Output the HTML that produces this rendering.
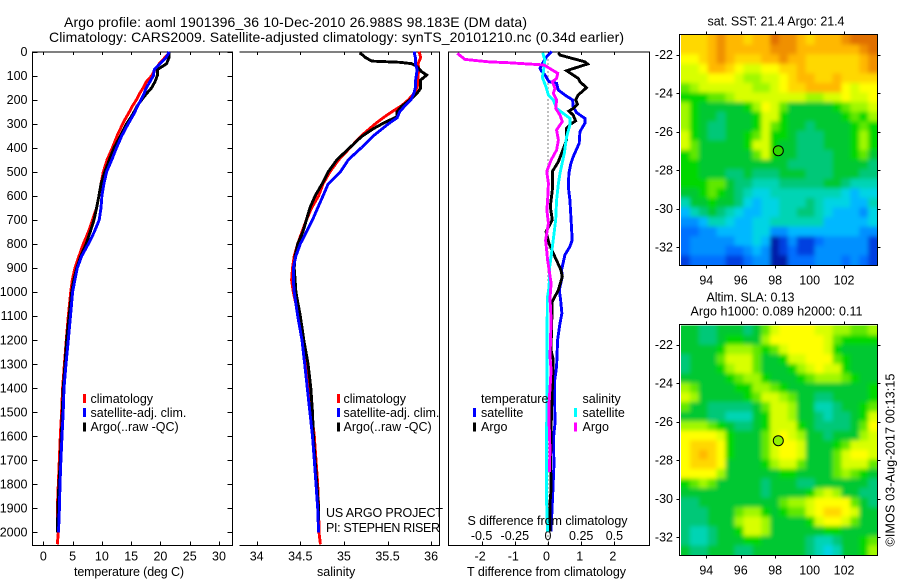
<!DOCTYPE html>
<html>
<head>
<meta charset="utf-8">
<title>Argo profile</title>
<style>
html,body{margin:0;padding:0;background:#fff;width:900px;height:580px;overflow:hidden}
svg{display:block}
text{font-family:"Liberation Sans",sans-serif;font-size:12.5px;fill:#000}
.frame{stroke:#000;stroke-width:1;fill:none;shape-rendering:crispEdges}
.ln{fill:none;stroke-width:2.9;stroke-linejoin:miter;shape-rendering:crispEdges}
</style>
</head>
<body>
<svg id="chart" width="900" height="580" viewBox="0 0 900 580" xmlns="http://www.w3.org/2000/svg">
  <defs>
    <clipPath id="clipSst"><rect x="681" y="35" width="196" height="230"/></clipPath>
    <clipPath id="clipSla"><rect x="681" y="325.5" width="196" height="229.5"/></clipPath>
    <filter id="soft" x="-10%" y="-10%" width="120%" height="120%"><feGaussianBlur stdDeviation="2.2"/></filter>
  </defs>

  <text x="64" y="27" font-size="14" style="font-size:14px" textLength="463">Argo profile: aoml 1901396_36 10-Dec-2010 26.988S 98.183E (DM data)</text>
  <text x="49" y="42" style="font-size:14px" textLength="575">Climatology: CARS2009. Satellite-adjusted climatology: synTS_20101210.nc (0.34d earlier)</text>

  <g id="gridSst" clip-path="url(#clipSst)"><g id="cellsSst" filter="url(#soft)"></g></g>
  <g id="gridSla" clip-path="url(#clipSla)"><g id="cellsSla" filter="url(#soft)"></g></g>

  <path class="frame" d="M32.5 52H232.5V545.5H32.5Z"/>
  <path class="frame" d="M239.5 52H439.5V545.5H239.5"/>
  <path class="frame" d="M448.5 52H649.5V545.5H448.5Z"/>
  <rect class="frame" x="679.5" y="34.5" width="198" height="231"/>
  <rect class="frame" x="679.5" y="324.5" width="198" height="231"/>

  <g id="ticks"></g>
  <g id="series"></g>

  <circle cx="778.3" cy="150.7" r="5" fill="#30d800" stroke="#000" stroke-width="1"/>
  <circle cx="778.3" cy="440.7" r="5" fill="#90f000" stroke="#000" stroke-width="1"/>

  <g>
    <rect x="83" y="394" width="3" height="9" fill="#ff0000"/><text x="90.5" y="403">climatology</text>
    <rect x="83" y="408" width="3" height="9" fill="#0000ff"/><text x="90.5" y="417">satellite-adj. clim.</text>
    <rect x="83" y="422.500" width="3" height="9" fill="#000"/><text x="90.5" y="431">Argo(..raw -QC)</text>
  </g>
  <g>
    <rect x="337" y="394" width="3" height="9" fill="#ff0000"/><text x="343.500" y="403">climatology</text>
    <rect x="337" y="408" width="3" height="9" fill="#0000ff"/><text x="343.500" y="417">satellite-adj. clim.</text>
    <rect x="337" y="422.500" width="3" height="9" fill="#000"/><text x="343.500" y="431">Argo(..raw -QC)</text>
  </g>
  <g>
    <text x="481" y="403">temperature</text>
    <rect x="473" y="408" width="3" height="9" fill="#0000ff"/><text x="481" y="417">satellite</text>
    <rect x="473" y="422.500" width="3" height="9" fill="#000"/><text x="481" y="431">Argo</text>
    <text x="582.500" y="403">salinity</text>
    <rect x="574" y="408" width="3" height="9" fill="#00ffff"/><text x="582.500" y="417">satellite</text>
    <rect x="574" y="422.500" width="3" height="9" fill="#ff00ff"/><text x="582.500" y="431">Argo</text>
  </g>

  <text x="326" y="517" textLength="117">US ARGO PROJECT</text>
  <text x="326" y="532" textLength="114">PI: STEPHEN RISER</text>
  <text x="74" y="576" textLength="110">temperature (deg C)</text>
  <text x="317" y="576">salinity</text>
  <text x="467" y="576" textLength="159">T difference from climatology</text>
  <text x="467.500" y="525" textLength="160">S difference from climatology</text>
  <text x="707.500" y="25.500" textLength="137">sat. SST: 21.4 Argo: 21.4</text>
  <text x="706.500" y="301.500" textLength="88">Altim. SLA: 0.13</text>
  <text x="690.500" y="315.500" textLength="172">Argo h1000: 0.089 h2000: 0.11</text>
  <text transform="translate(894.500 546.500) rotate(-90)" textLength="173">©IMOS 03-Aug-2017 00:13:15</text>
</svg>

<script>
// ----- profile panels: depth grids and series values
const depthTicks = [0,100,200,300,400,500,600,700,800,900,1000,1100,1200,1300,1400,1500,1600,1700,1800,1900,2000];
const tempTicks = [0,5,10,15,20,25,30];
const salTicks = [34,34.5,35,35.5,36];
const tDiffTicks = [-2,-1,0,1,2];
const sDiffLabels = ["-0.5","-0.25","0","0.25","0.5"];
const sDiffTicks = [-0.5,-0.25,0,0.25,0.5];

const tempDepths = [0,10,25,50,75,100,125,150,175,200,225,250,275,300,350,400,450,500,550,600,650,700,750,800,850,900,950,1000,1100,1200,1300,1400,1500,1600,1700,1800,1900,2000,2050];
const tempClim = [21.46,21.3,20.75,19.8,19.07,18.5,17.6,17.07,16.4,15.9,15.25,14.7,14.1,13.55,12.6,11.8,10.9,10.25,9.85,9.5,9.1,8.4,7.7,6.83,6.1,5.4,4.95,4.67,4.27,3.93,3.6,3.3,3.13,2.9,2.73,2.56,2.39,2.56,2.39];
const tempArgo = [21.46,21.46,21.46,21.06,19.46,19.46,19.07,18.5,17.6,16.8,16.05,15.5,14.9,14.2,13.2,12.07,11.27,10.5,9.85,9.5,9.1,8.65,8,7.3,6.4,5.7,5.2,4.85,4.4,3.98,3.7,3.4,3.25,3.07,2.9,2.67,2.5,2.4];
const tempSat = [21.46,21.3,20.95,19.9,18.95,18.8,18.2,17.6,17.2,16.7,16.1,15.65,15.1,14.5,13.4,12.5,11.7,10.8,10.35,10,9.85,9.55,8.7,7.7,6.55,5.8,5.4,5,4.65,4.27,3.87,3.53,3.4,3.2,3,2.85,2.75,2.6];

const salDepths = tempDepths;
const salClim = [35.86,35.87,35.88,35.85,35.86,35.85,35.85,35.84,35.8,35.74,35.66,35.55,35.45,35.36,35.2,35.07,34.94,34.84,34.76,34.71,34.63,34.57,34.52,34.47,34.43,34.41,34.4,34.42,34.48,34.53,34.57,34.59,34.63,34.66,34.68,34.7,34.71,34.715,34.73];
const salSat = [35.81,35.81,35.82,35.82,35.84,35.83,35.82,35.82,35.8,35.77,35.7,35.64,35.61,35.51,35.34,35.2,35.05,34.96,34.82,34.76,34.7,34.64,34.57,34.5,34.45,34.42,34.42,34.43,34.47,34.52,34.55,34.58,34.61,34.64,34.66,34.68,34.7,34.71];
const salArgoDepths = [5,15,25,39,44,50,62,83,97,118,152,173,200,228,250,270,298,320,354,395,450,500,550,600,650,700,750,800,850,900,950,1000,1100,1200,1300,1400,1500,1600,1700,1800,1900,1950];
const salArgo = [35.18,35.22,35.25,35.32,35.64,35.78,35.84,35.89,35.95,35.88,35.88,35.84,35.76,35.66,35.61,35.61,35.45,35.34,35.2,35.08,34.92,34.82,34.75,34.67,34.61,34.57,34.53,34.47,34.44,34.43,34.44,34.45,34.5,34.54,34.59,34.62,34.64,34.65,34.67,34.69,34.71,34.71];

const dtSatDepths = [0,21,49,69,83,97,125,132,160,180,201,229,254,277,298,333,381,437,465,506,562,617,687,784,811,846,908,936,992,1033,1089,1130,1200,1310,1380,1546,1616,1713,1852,1997];
const dtSat = [0.11,-0.04,-0.17,-0.24,-0.19,-0.09,0.03,0.26,0.31,0.51,0.74,0.76,0.86,1.11,1.11,0.96,0.94,0.76,0.69,0.63,0.61,0.66,0.69,0.73,0.66,0.51,0.41,0.43,0.34,0.38,0.42,0.36,0.29,0.26,0.19,0.21,0.16,0.18,0.14,0.09];
const dtArgoDepths = [4,14,42,51,79,111,125,150,180,201,218,236,247,264,288,301,319,367,423,458,499,576,645,700,749,798,839,908,936,992,1040,1130,1241,1283,1408,1574,1713,1824,1879,1997];
const dtArgo = [0.31,0.36,1.11,1.19,0.56,0.91,0.96,1.16,0.91,0.83,0.89,0.76,0.63,0.76,0.83,0.69,0.56,0.56,0.41,0.31,0.13,0.13,0.07,0.13,-0.06,0.03,0.16,0.39,0.43,0.31,0.13,0.11,0.09,0.16,0.13,0.09,0.08,0.09,0.06,0.07];
const dsSatDepths = [4,35,76,107,146,180,201,236,277,305,354,423,506,548,617,700,811,895,978,1026,1546,1700,1850,1997];
const dsSat = [-0.04,-0.023,-0.033,-0.043,-0.015,0.003,0.04,0.065,0.165,0.165,0.14,0.123,0.09,0.078,0.065,0.058,0.033,0.013,0.008,-0.005,-0.01,-0.012,-0.012,-0.003];
const dsArgoDepths = [7,32,42,46,51,55,62,90,111,125,153,173,201,236,264,291,326,368,409,451,499,548,617,659,714,784,867,964,1026,1117,1269,1325,1463,1546,1657,1750];
const dsArgo = [-0.683,-0.625,-0.45,-0.288,-0.148,-0.035,-0.01,0.073,0.065,0.033,0.053,0.04,0.065,0.058,0.09,0.108,0.065,0.078,0.065,0.023,-0.01,0.003,-0.003,-0.008,0.003,-0.018,-0.003,0.023,0.015,0.023,0.015,0.023,0.008,0.008,0.015,0.01];

// ----- maps: tick labels, colour levels, gridded field values
const lonTicks = [94,96,98,100,102];
const latTicks = [-22,-24,-26,-28,-30,-32];
const levelColours = ["#001ca8","#0040e0","#0070ff","#0090ff","#00b8ff","#00d4e4","#00d4b4","#00c878","#00c830","#00d800","#60e800","#a0f800","#d8ff00","#ffff00","#ffd800","#ffb800","#f09000","#e07000"];
const sstGrid = [
[14,14,14,15,16,15,15,14,15,15,17,16,16,15,14,15,15,15,16,17,17,17],
[14,14,14,15,16,15,15,15,15,15,16,16,16,15,15,15,15,15,15,15,16,17],
[13,13,14,15,16,15,14,14,14,15,15,16,15,15,14,14,14,14,14,14,15,16],
[12,12,13,15,15,14,13,12,12,13,13,14,14,15,14,14,14,14,14,14,15,16],
[12,12,12,13,13,13,12,11,11,12,12,13,14,15,15,14,14,15,14,14,14,14],
[10,11,12,12,12,12,12,12,11,11,12,13,14,14,15,15,15,15,13,12,13,13],
[9,9,9,10,10,11,12,12,12,12,12,12,12,12,11,11,12,12,13,12,12,13],
[11,9,8,8,8,8,8,9,11,13,12,10,8,8,8,8,8,9,10,11,11,12],
[11,9,8,8,7,8,8,8,9,12,12,9,8,8,8,8,8,8,9,10,9,11],
[11,9,8,7,7,8,8,8,9,12,10,9,8,8,7,8,8,8,8,9,10,9],
[12,9,8,7,7,8,8,9,10,12,9,9,8,7,7,7,8,8,8,9,11,9],
[12,10,8,8,8,8,8,9,12,12,9,8,8,7,7,7,8,8,8,9,11,9],
[9,10,8,8,8,8,8,8,10,12,9,8,8,7,7,7,7,8,8,9,10,8],
[9,9,8,8,8,8,8,8,8,8,8,8,7,7,7,7,7,8,8,8,8,7],
[9,9,8,8,8,7,7,8,7,7,7,8,8,8,7,7,7,8,8,8,7,7],
[9,9,9,10,10,8,7,7,6,6,6,7,7,7,7,7,8,8,7,6,6,6],
[8,8,9,10,9,8,7,6,5,5,6,6,6,6,6,6,6,6,5,4,5,5],
[6,8,8,9,8,8,7,5,4,5,5,6,6,6,7,6,5,5,5,4,4,6],
[4,6,7,8,7,6,5,4,4,5,5,6,6,7,7,6,5,4,4,4,3,5],
[3,3,4,6,6,5,4,4,5,5,6,6,6,6,6,6,4,4,4,4,4,5],
[2,2,3,3,4,4,4,4,5,5,3,3,4,4,4,4,4,4,4,4,3,3],
[2,3,3,3,3,3,4,4,5,4,0,1,3,1,1,2,3,3,3,3,3,1],
[2,3,3,3,3,2,2,3,4,3,0,1,2,1,1,3,3,3,3,3,3,1],
[1,2,2,2,2,1,1,2,3,3,0,0,2,2,2,3,3,3,2,3,2,1]
];
const slaGrid = [
[8,8,7,7,8,8,8,7,8,10,12,13,13,13,13,12,12,11,11,10,10,11],
[8,8,7,7,8,9,9,8,8,11,13,13,13,13,13,13,12,10,9,9,9,9],
[8,8,8,8,9,11,11,11,10,9,10,12,13,13,13,13,12,9,8,8,8,8],
[7,8,8,8,10,12,12,12,10,8,8,9,12,12,13,13,13,10,9,8,8,8],
[7,8,8,8,9,11,12,12,10,8,8,8,9,11,12,13,12,12,9,8,8,8],
[8,8,8,8,8,9,10,11,11,9,8,8,8,9,10,11,11,11,10,9,8,8],
[11,10,8,8,8,8,9,9,11,11,10,9,8,8,8,8,8,8,8,8,8,9],
[12,11,8,8,8,8,8,9,10,12,12,11,10,8,8,7,7,8,8,8,8,9],
[10,8,8,7,7,7,7,7,8,10,12,12,11,8,8,6,6,7,8,8,9,10],
[8,8,8,7,7,6,6,6,8,9,12,12,11,8,8,7,6,7,7,8,9,12],
[11,11,11,10,9,8,7,7,8,9,12,12,12,9,8,7,7,7,7,8,10,13],
[13,13,13,13,12,9,8,8,8,10,12,13,12,11,8,8,7,8,8,8,11,12],
[13,14,14,14,13,9,8,8,8,10,12,13,13,12,8,8,8,9,10,12,12,12],
[13,14,15,14,13,9,8,8,8,10,12,13,13,12,8,8,8,10,12,13,13,12],
[13,14,14,14,13,8,8,8,8,9,11,12,12,10,8,8,8,10,12,12,12,10],
[13,13,13,13,11,8,8,8,8,8,8,9,9,8,8,8,8,10,11,10,9,8],
[9,10,11,10,8,8,8,8,8,7,8,8,8,7,7,8,8,8,8,8,8,7],
[8,8,8,8,8,8,8,8,8,7,8,8,8,8,9,11,12,11,8,8,7,7],
[7,7,8,8,8,8,8,8,8,8,8,10,11,11,12,13,13,13,13,10,8,7],
[7,7,7,8,8,8,10,11,11,9,8,9,10,10,12,13,14,14,13,12,8,8],
[7,7,7,8,8,8,11,12,12,11,8,8,8,8,9,12,13,13,12,10,8,8],
[7,6,6,7,8,8,9,12,12,11,8,8,8,8,8,8,9,9,8,8,8,8],
[7,6,6,7,8,8,8,9,9,8,8,8,8,8,7,6,6,7,8,8,9,10],
[8,7,7,8,8,8,7,7,8,8,8,8,8,8,7,6,5,6,8,8,9,11]
];

// ----- axis functions
const NS = "http://www.w3.org/2000/svg";
const yDepth = d => 51.7 + d * 0.2403;
const xTemp = v => 43.3 + v * 5.857;
const xSal = v => 256.7 + (v - 34) * 87.2;
const xDT = v => 548 + v * 33.2;
const xDS = v => 548 + v * 4 * 33.2;
const xLon = v => 706.3 + (v - 94) * 17.22;
const ySst = v => 55 + (-22 - v) * 19.23;
const ySla = v => 345 + (-22 - v) * 19.23;

const tickLayer = document.getElementById("ticks");
const seriesLayer = document.getElementById("series");

function tickLine(x1, y1, x2, y2) {
  const l = document.createElementNS(NS, "line");
  l.setAttribute("x1", x1); l.setAttribute("y1", y1);
  l.setAttribute("x2", x2); l.setAttribute("y2", y2);
  l.setAttribute("stroke", "#000");
  l.setAttribute("stroke-width", "1");
  l.setAttribute("shape-rendering", "crispEdges");
  
  
  tickLayer.appendChild(l);
}
function tickText(x, y, str, anchor) {
  const t = document.createElementNS(NS, "text");
  t.setAttribute("x", x); t.setAttribute("y", y);
  t.setAttribute("text-anchor", anchor);
  t.textContent = str;
  
  
  tickLayer.appendChild(t);
}
function profileLine(depths, values, xFn, colour, name, dash) {
  const p = document.createElementNS(NS, "polyline");
  const pts = [];
  for (let i = 0; i < values.length; i++) {
    pts.push(xFn(values[i]).toFixed(1) + "," + yDepth(depths[i]).toFixed(1));
  }
  p.setAttribute("points", pts.join(" "));
  p.setAttribute("class", "ln");
  p.setAttribute("stroke", colour);
  
  
  seriesLayer.appendChild(p);
}
function drawGrid(grid, parent, top, bottom) {
  const left = 681, right = 877;
  const rows = grid.length, cols = grid[0].length;
  const cw = (right - left) / cols, ch = (bottom - top) / rows;
  for (let r = 0; r < rows; r++) {
    for (let c = 0; c < cols; c++) {
      const rc = document.createElementNS(NS, "rect");
      const x0 = c === 0 ? left - 12 : left + c * cw;
      const y0 = r === 0 ? top - 12 : top + r * ch;
      const x1 = c === cols - 1 ? right + 12 : left + (c + 1) * cw + 0.5;
      const y1 = r === rows - 1 ? bottom + 12 : top + (r + 1) * ch + 0.5;
      rc.setAttribute("x", x0.toFixed(1));
      rc.setAttribute("y", y0.toFixed(1));
      rc.setAttribute("width", (x1 - x0).toFixed(1));
      rc.setAttribute("height", (y1 - y0).toFixed(1));
      rc.setAttribute("fill", levelColours[grid[r][c]]);
      
      
      parent.appendChild(rc);
    }
  }
}

// ----- heat maps
drawGrid(sstGrid, document.getElementById("cellsSst"), 35, 265);
drawGrid(slaGrid, document.getElementById("cellsSla"), 325.5, 555);

// ----- profile panel ticks
depthTicks.forEach(d => {
  const y = Math.round(yDepth(d)) + 0.5;
  tickLine(32.5, y, 37.5, y);
  tickLine(227.5, y, 232.5, y);
  tickText(27.5, yDepth(d) + 4.2, String(d), "end");
});
tempTicks.forEach(v => {
  const x = Math.round(xTemp(v)) + 0.5;
  tickLine(x, 52, x, 55);
  tickLine(x, 541.5, x, 545.5);
  tickText(xTemp(v), 560.7, String(v), "middle");
});
salTicks.forEach(v => {
  const x = Math.round(xSal(v)) + 0.5;
  tickLine(x, 52, x, 55);
  tickLine(x, 541.5, x, 545.5);
  tickText(xSal(v), 560.7, String(v), "middle");
});
tDiffTicks.forEach(v => {
  const x = Math.round(xDT(v)) + 0.5;
  tickLine(x, 52, x, 55);
  tickLine(x, 541.5, x, 545.5);
  tickText(xDT(v) - 1.5, 560.7, String(v), "middle");
});
sDiffTicks.forEach((v, i) => {
  tickText(xDS(v), 540, sDiffLabels[i], "middle");
});

// ----- map ticks
lonTicks.forEach(v => {
  const x = Math.round(xLon(v)) + 0.5;
  tickLine(x, 31.5, x, 34.5);
  tickLine(x, 265.5, x, 268.5);
  tickLine(x, 321.5, x, 324.5);
  tickLine(x, 555.5, x, 558.5);
  tickText(xLon(v), 284.3, String(v), "middle");
  tickText(xLon(v), 574.3, String(v), "middle");
});
latTicks.forEach(v => {
  const y1 = Math.round(ySst(v)) + 0.5, y2 = Math.round(ySla(v)) + 0.5;
  tickLine(676.5, y1, 679.5, y1);
  tickLine(877.5, y1, 880.5, y1);
  tickLine(676.5, y2, 679.5, y2);
  tickLine(877.5, y2, 880.5, y2);
  tickText(673, ySst(v) + 4.2, String(v), "end");
  tickText(673, ySla(v) + 4.2, String(v), "end");
});

// ----- zero line in the difference panel
const zeroLine = document.createElementNS(NS, "line");
zeroLine.setAttribute("x1", xDT(0)); zeroLine.setAttribute("x2", xDT(0));
zeroLine.setAttribute("y1", yDepth(0)); zeroLine.setAttribute("y2", yDepth(2050));
zeroLine.setAttribute("stroke", "#000");
zeroLine.setAttribute("stroke-width", "1");
zeroLine.setAttribute("stroke-dasharray", "1 3");
zeroLine.setAttribute("shape-rendering", "crispEdges");


seriesLayer.appendChild(zeroLine);

// ----- series
profileLine(tempDepths, tempClim, xTemp, "#ff0000", "temperature-climatology-line");
profileLine(tempDepths, tempArgo, xTemp, "#000000", "temperature-argo-line");
profileLine(tempDepths, tempSat, xTemp, "#0000ff", "temperature-satellite-line");
profileLine(salDepths, salClim, xSal, "#ff0000", "salinity-climatology-line");
profileLine(salArgoDepths, salArgo, xSal, "#000000", "salinity-argo-line");
profileLine(salDepths, salSat, xSal, "#0000ff", "salinity-satellite-line");
profileLine(dtSatDepths, dtSat, xDT, "#0000ff", "t-difference-satellite-line");
profileLine(dtArgoDepths, dtArgo, xDT, "#000000", "t-difference-argo-line");
profileLine(dsSatDepths, dsSat, xDS, "#00ffff", "s-difference-satellite-line");
profileLine(dsArgoDepths, dsArgo, xDS, "#ff00ff", "s-difference-argo-line");
</script>
</body>
</html>
